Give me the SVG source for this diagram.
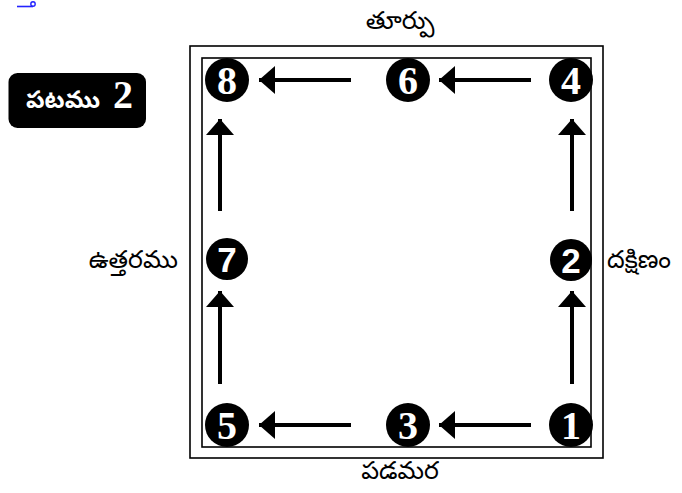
<svg xmlns="http://www.w3.org/2000/svg" width="682" height="493" viewBox="0 0 682 493">
<style>
.frame{fill:none;stroke:#000;stroke-width:1.6}
.dot{fill:#000}
.num{fill:#fff;font-family:"Liberation Serif",serif;font-weight:bold;font-size:40px;text-anchor:middle}
.nums{fill:#fff;font-family:"Liberation Sans",sans-serif;font-weight:bold;font-size:35px;text-anchor:middle}
.lbl{fill:#000;font-family:"Noto Sans Telugu","Noto Sans","DejaVu Sans",sans-serif;font-size:25px}
.arr{stroke:#000;stroke-width:4;fill:none}
</style>
<defs>
<marker id="ah" viewBox="0 0 16 28" refX="16" refY="14" markerWidth="16" markerHeight="28" markerUnits="userSpaceOnUse" orient="auto">
<path d="M0,0 L16,14 L0,28 Z" fill="#000"/>
</marker>
</defs>
<g id="link-fragment">
<line x1="17" y1="6.5" x2="33" y2="6.5" stroke="#2323ff" stroke-width="1.6"/>
<circle cx="33" cy="4" r="2.2" fill="none" stroke="#2323ff" stroke-width="1.4"/>
</g>
<g id="badge">
<rect x="8.5" y="73" width="137.5" height="55" rx="9" fill="#000"/>
<text x="26" y="108" font-family="Noto Sans Telugu,'Noto Sans',serif" font-size="24" font-weight="bold" fill="#fff">పటము</text>
<text x="123" y="108" class="num" font-size="27">2</text>
</g>
<g id="frame">
<rect class="frame" x="190" y="46" width="413" height="412"/>
<rect class="frame" x="202" y="58" width="389" height="389"/>
</g>
<g id="labels">
<text class="lbl" x="400" y="29" text-anchor="middle">తూర్పు</text>
<text class="lbl" x="607" y="268">దక్షిణం</text>
<text class="lbl" x="178" y="268" text-anchor="end">ఉత్తరము</text>
<text class="lbl" x="400" y="479" text-anchor="middle">పడమర</text>
</g>
<g id="connectors">
<line class="arr" x1="531" y1="80" x2="439" y2="80" marker-end="url(#ah)"/>
<line class="arr" x1="351" y1="80" x2="259" y2="80" marker-end="url(#ah)"/>
<line class="arr" x1="531" y1="425" x2="439" y2="425" marker-end="url(#ah)"/>
<line class="arr" x1="351" y1="425" x2="259" y2="425" marker-end="url(#ah)"/>
<line class="arr" x1="220" y1="384" x2="220" y2="291" marker-end="url(#ah)"/>
<line class="arr" x1="220" y1="211" x2="220" y2="119" marker-end="url(#ah)"/>
<line class="arr" x1="572" y1="384" x2="572" y2="291" marker-end="url(#ah)"/>
<line class="arr" x1="572" y1="211" x2="572" y2="119" marker-end="url(#ah)"/>
</g>
<g id="n1"><circle class="dot" cx="571" cy="425" r="22"/><text class="num" x="571" y="439">1</text></g>
<g id="n2"><circle class="dot" cx="571" cy="260" r="21"/><text class="nums" x="571" y="272.5">2</text></g>
<g id="n3"><circle class="dot" cx="408" cy="425" r="22"/><text class="num" x="408" y="439">3</text></g>
<g id="n4"><circle class="dot" cx="571" cy="80" r="22"/><text class="num" x="571" y="94">4</text></g>
<g id="n5"><circle class="dot" cx="227" cy="425" r="22"/><text class="num" x="227" y="439">5</text></g>
<g id="n6"><circle class="dot" cx="408" cy="80" r="22"/><text class="num" x="408" y="94">6</text></g>
<g id="n7"><circle class="dot" cx="227" cy="259" r="21"/><text class="nums" x="227" y="271.5">7</text></g>
<g id="n8"><circle class="dot" cx="227" cy="80" r="22"/><text class="num" x="227" y="94">8</text></g>
</svg>
